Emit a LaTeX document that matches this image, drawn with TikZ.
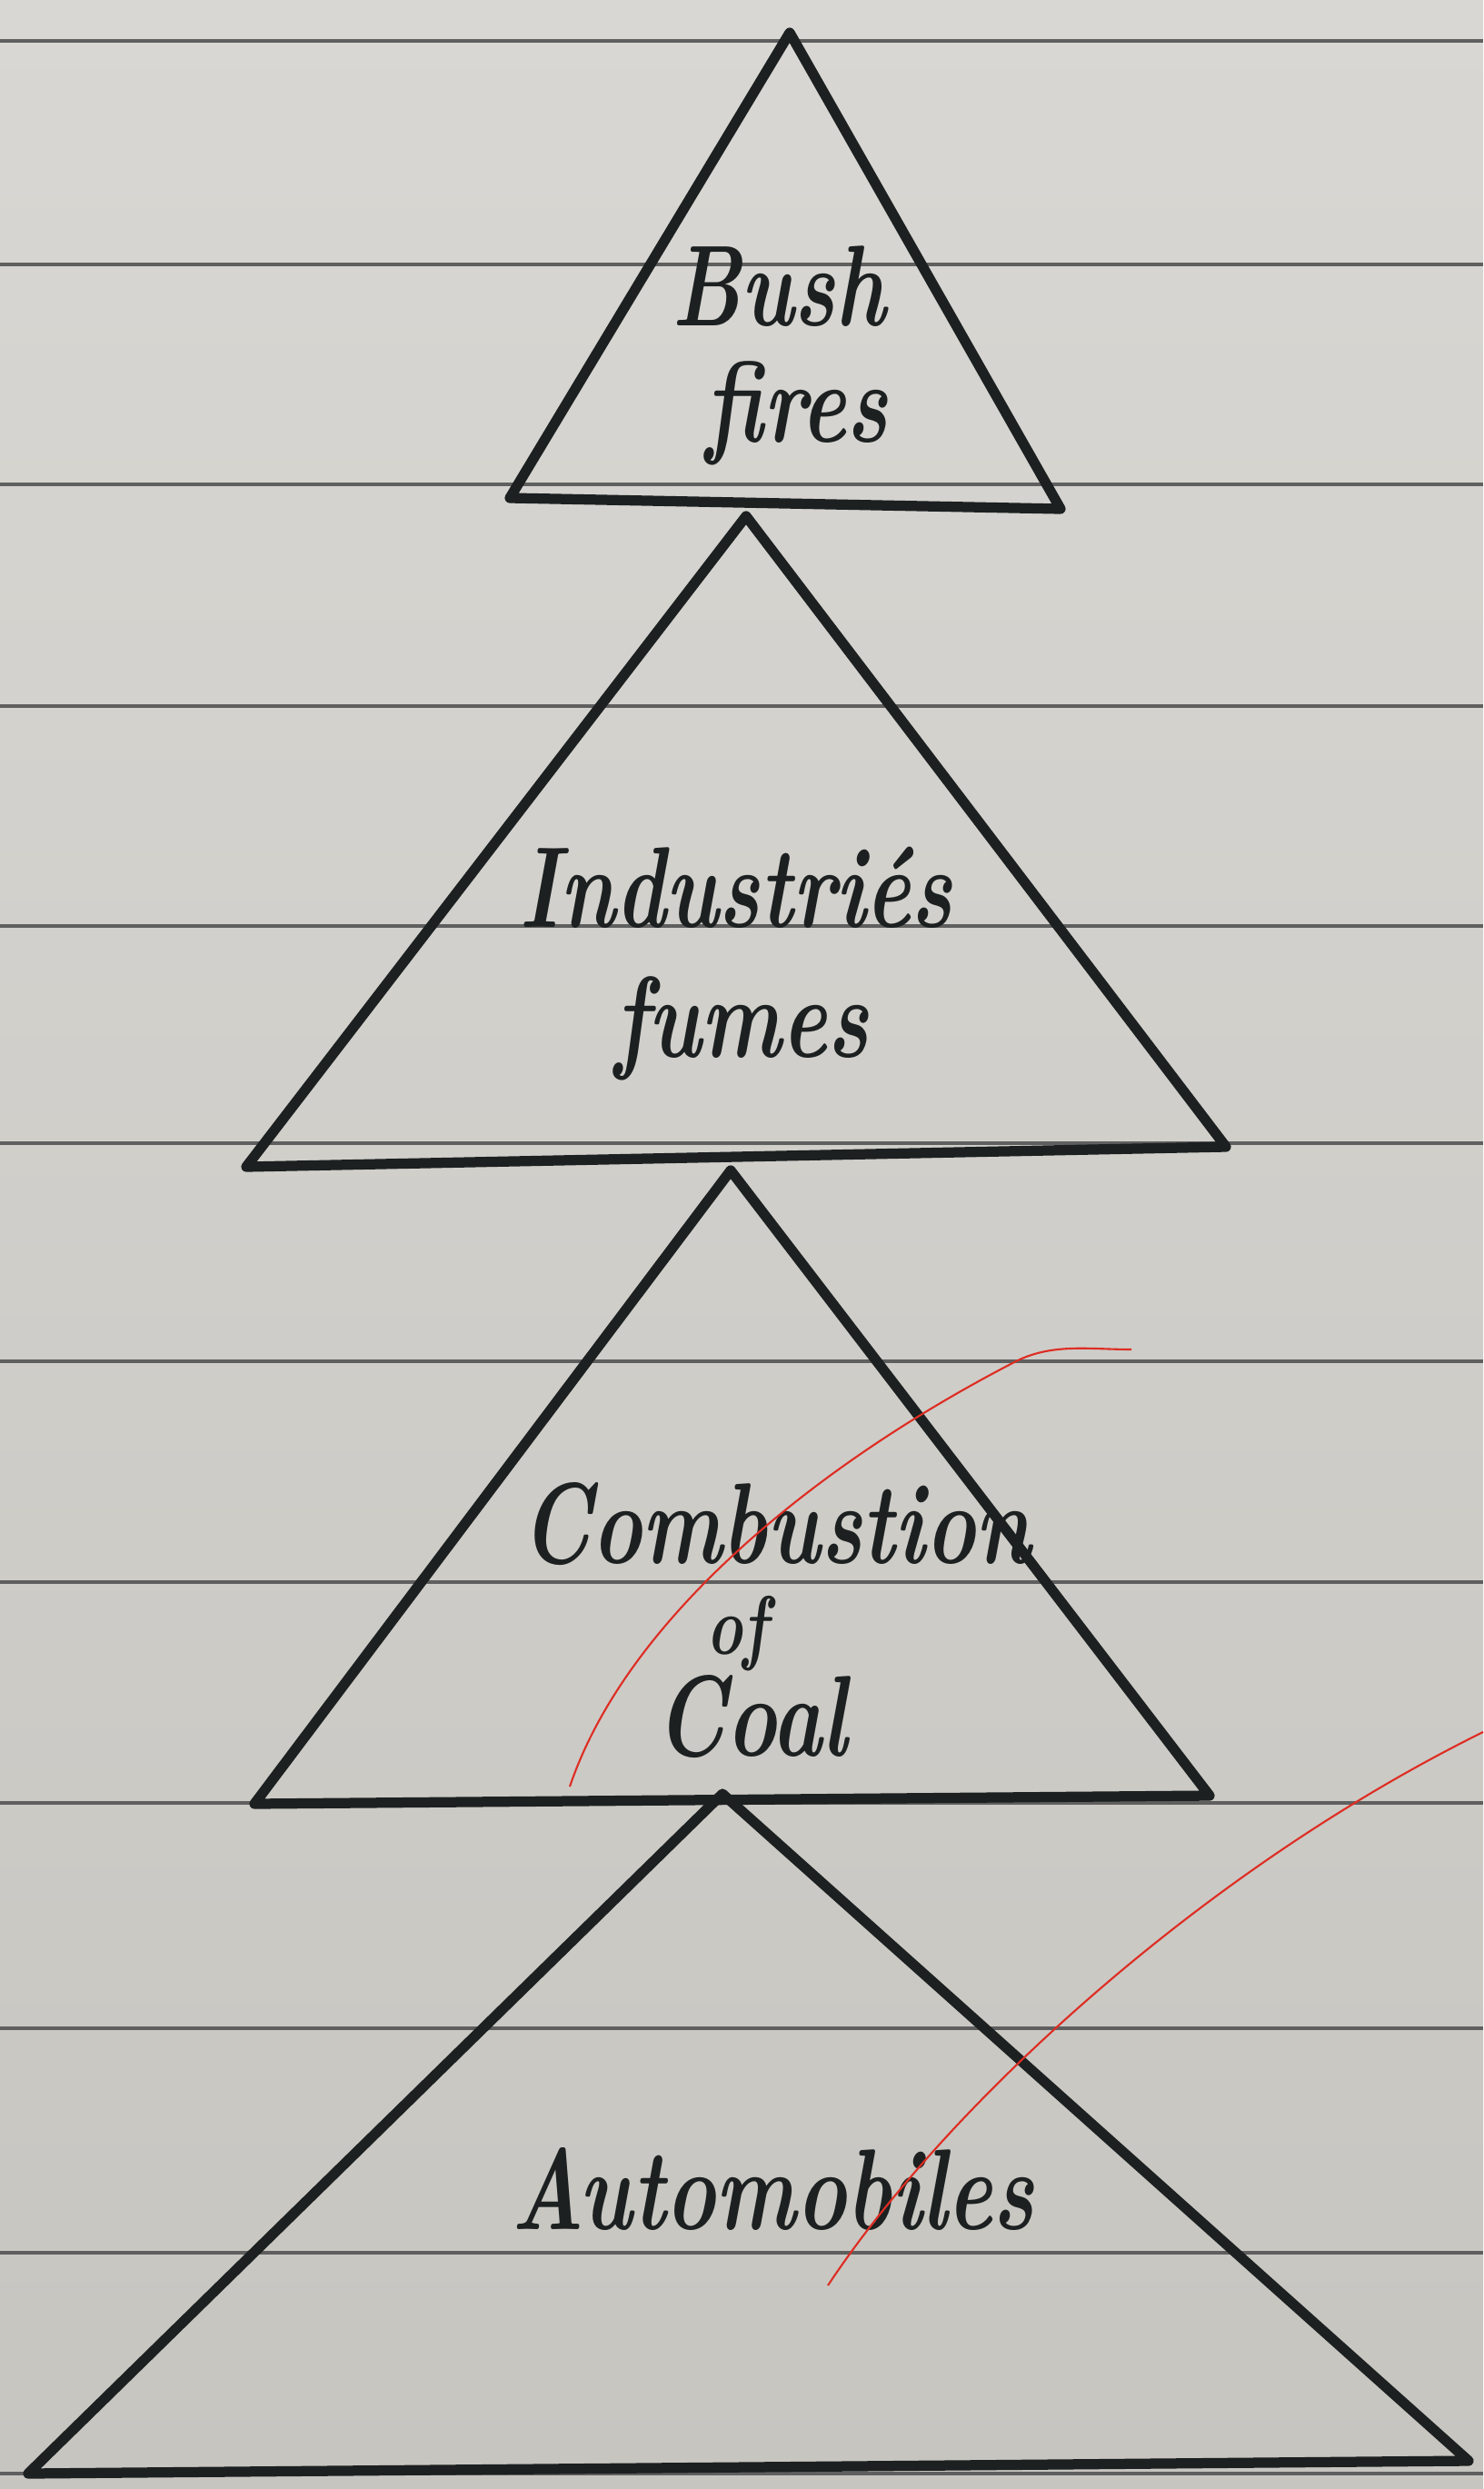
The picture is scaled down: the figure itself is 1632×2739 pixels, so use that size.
\documentclass[tikz,border=0pt]{standalone}
\usepackage{graphicx}
\definecolor{paperTop}{RGB}{216,215,211}
\definecolor{paperBot}{RGB}{198,197,192}
\definecolor{ruleC}{RGB}{95,95,95}
\definecolor{inkC}{RGB}{28,32,32}
\definecolor{redC}{RGB}{222,45,35}
\newcommand\hw[1]{\scalebox{0.74}[1]{#1}}
\tikzset{
  ruling/.style={draw=ruleC, line width=0.9pt},
  tri/.style={draw=inkC, line width=3.2pt, line join=round, line cap=round},
  redmark/.style={draw=redC, line width=0.6pt},
  lbl/.style={anchor=base, inner sep=0pt, text=inkC, font=\fontsize{36}{42}\selectfont\bfseries\itshape},
  smalllbl/.style={lbl, font=\fontsize{26}{30}\selectfont\bfseries\itshape}
}
\begin{document}
\begin{tikzpicture}[x=0.01cm, y=-0.01cm]
\useasboundingbox (0,0) rectangle (1632,2739);
\shade[top color=paperTop, bottom color=paperBot] (0,0) rectangle (1632,2739);
% ruled lines
\foreach \yy in {45,291,533,777,1019,1258,1498,1741,1984,2232,2479,2722}
  \draw[ruling] (0,\yy) -- (1632,\yy);
% triangles
\coordinate (a1) at (869,36);  \coordinate (l1) at (561,548);  \coordinate (r1) at (1167,560);
\coordinate (a2) at (821,568); \coordinate (l2) at (271,1284); \coordinate (r2) at (1349,1262);
\coordinate (a3) at (804,1288);\coordinate (l3) at (280,1985); \coordinate (r3) at (1331,1976);
\coordinate (a4) at (795,1974);\coordinate (l4) at (31,2722);  \coordinate (r4) at (1616,2708);
\draw[tri] (a1) -- (l1) -- (r1) -- cycle;
\draw[tri] (a2) -- (l2) -- (r2) -- cycle;
\draw[tri] (a3) -- (l3) -- (r3) -- cycle;
\draw[tri] (a4) -- (l4) -- (r4) -- cycle;
% labels
\node[lbl] (bush) at (857,358) {\hw{Bush}};
\node[lbl] (fires) at (877,486) {\hw{fires}};
\node[lbl] (ind) at (810,1020) {\hw{Industri\'es}};
\node[lbl] (fumes) at (816,1163) {\hw{fumes}};
\node[lbl] (comb) at (854,1720) {\hw{Combustion}};
\node[smalllbl] (of) at (811,1820) {\hw{of}};
\node[lbl] (coal) at (827,1932) {\hw{Coal}};
\node[lbl] (auto) at (850,2453) {\hw{Automobiles}};
% red marks
\coordinate (c1s) at (627,1966); \coordinate (c1m) at (1120,1497); \coordinate (c1e) at (1245,1485);
\draw[redmark] (c1s) .. controls (690,1780) and (900,1610) .. (c1m) .. controls (1160,1478) and (1200,1485) .. (c1e);
\coordinate (c2s) at (911,2515); \coordinate (c2e) at (1632,1906);
\draw[redmark] (c2s) .. controls (1040,2320) and (1320,2060) .. (c2e);
\end{tikzpicture}
\end{document}
